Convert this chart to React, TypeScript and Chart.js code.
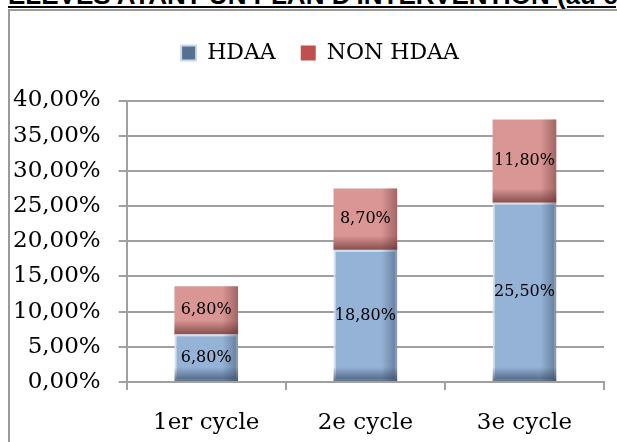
import React, { useEffect, useRef } from "react";
import { Chart, registerables, layouts } from "chart.js";

Chart.register(...registerables);

const categories = ["1er cycle", "2e cycle", "3e cycle"];
const hdaaValues = [6.8, 18.8, 25.5];
const nonHdaaValues = [6.8, 8.7, 11.8];
const seriesNames = ["HDAA", "NON HDAA"];
const yMin = 0;
const yMax = 40;
const yStep = 5;
const titleText = "ÉLÈVES AYANT UN PLAN D'INTERVENTION (au cycle)";

const SERIF = "'DejaVu Serif', serif";
const fmt = (v: number) => v.toFixed(2).replace(".", ",") + "%";

const spacerPlugin = {
  id: "legendSpacer",
  beforeInit(chart: any) {
    layouts.addBox(chart, {
      position: "top",
      weight: 0,
      fullSize: true,
      options: {},
      left: 0,
      top: 0,
      right: 0,
      bottom: 0,
      width: 0,
      height: 0,
      isHorizontal() {
        return true;
      },
      update(maxWidth: number) {
        this.width = maxWidth;
        this.height = 26.5;
      },
      draw() {},
    } as any);
  },
  afterLayout(chart: any) {
    if (chart.legend) {
      chart.legend.left += 20.5;
      chart.legend.right += 20.5;
    }
  },
};

const shadeAndLabelPlugin = {
  id: "shadeAndLabel",
  afterDatasetsDraw(chart: any) {
    const ctx = chart.ctx;
    chart.data.datasets.forEach((ds: any, di: number) => {
      const meta = chart.getDatasetMeta(di);
      const dark = di === 0 ? "40,58,84" : "92,42,40";
      meta.data.forEach((bar: any) => {
        const { x, y, base, width } = bar.getProps(["x", "y", "base", "width"], true);
        const left = x - width / 2;
        const right = x + width / 2;
        const top = Math.min(y, base);
        const bottom = Math.max(y, base);
        ctx.save();
        const gr = ctx.createLinearGradient(right - 16, 0, right, 0);
        gr.addColorStop(0, `rgba(${dark},0)`);
        gr.addColorStop(1, `rgba(${dark},0.45)`);
        ctx.fillStyle = gr;
        ctx.fillRect(right - 16, top, 16, bottom - top);
        const h = Math.min(14, bottom - top);
        const gb = ctx.createLinearGradient(0, bottom - h, 0, bottom);
        gb.addColorStop(0, `rgba(${dark},0)`);
        gb.addColorStop(1, `rgba(${dark},0.65)`);
        ctx.fillStyle = gb;
        ctx.fillRect(left, bottom - h, width, h);
        ctx.restore();
      });
    });
    chart.data.datasets.forEach((ds: any, di: number) => {
      const meta = chart.getDatasetMeta(di);
      meta.data.forEach((bar: any, i: number) => {
        const { x, y, base } = bar.getProps(["x", "y", "base"], true);
        ctx.save();
        ctx.font = `16px ${SERIF}`;
        ctx.fillStyle = "#000";
        ctx.textAlign = "center";
        ctx.textBaseline = "middle";
        ctx.fillText(fmt(ds.data[i]), x, (y + base) / 2);
        ctx.restore();
      });
    });
  },
};

export default function App() {
  const canvasRef = useRef<HTMLCanvasElement | null>(null);

  useEffect(() => {
    const canvas = canvasRef.current;
    if (!canvas) return;
    const gridColor = "#a0a0a0";
    const chart = new Chart(canvas, {
      type: "bar",
      data: {
        labels: categories,
        datasets: [
          {
            label: seriesNames[0],
            data: hdaaValues,
            backgroundColor: "#95B3D7",
            borderColor: "#d3e0f1",
            borderWidth: 2,
            borderSkipped: false,
          },
          {
            label: seriesNames[1],
            data: nonHdaaValues,
            backgroundColor: "#D99694",
            borderWidth: 0,
          },
        ],
      },
      options: {
        animation: false,
        responsive: false,
        devicePixelRatio: 1,
        layout: { padding: { left: -5, right: 13, top: 17, bottom: -13.6 } },
        datasets: {
          bar: { categoryPercentage: 1, barPercentage: 0.4 },
        },
        plugins: {
          tooltip: { enabled: false },
          legend: {
            display: true,
            position: "top",
            labels: {
              boxWidth: 15,
              boxHeight: 15,
              padding: 25,
              color: "#000",
              font: { family: SERIF, size: 22 },
              generateLabels: (chart: any) =>
                chart.data.datasets.map((ds: any, i: number) => ({
                  text: ds.label,
                  fillStyle: i === 0 ? "#58708f" : "#C0504D",
                  strokeStyle: i === 0 ? "#c9d8ec" : "#C0504D",
                  lineWidth: i === 0 ? 2 : 0,
                  hidden: false,
                  datasetIndex: i,
                })),
            },
          },
        },
        scales: {
          x: {
            stacked: true,
            grid: {
              offset: true,
              drawOnChartArea: false,
              drawTicks: true,
              tickLength: 8,
              color: gridColor,
              lineWidth: 2,
            },
            border: { display: true, color: gridColor, width: 2 },
            ticks: {
              color: "#000",
              padding: 19,
              font: { family: SERIF, size: 23 },
            },
          },
          y: {
            stacked: true,
            min: yMin,
            max: yMax,
            grid: {
              drawTicks: true,
              tickLength: 8,
              color: gridColor,
              lineWidth: 2,
            },
            border: { display: true, color: gridColor, width: 2 },
            ticks: {
              stepSize: yStep,
              color: "#000",
              padding: 18,
              font: { family: SERIF, size: 23 },
              callback: (v: any) => fmt(Number(v)),
            },
          },
        },
      },
      plugins: [spacerPlugin, shadeAndLabelPlugin],
    });
    return () => chart.destroy();
  }, []);

  return (
    <div
      style={{
        position: "fixed",
        left: 0,
        top: 0,
        width: 617,
        height: 442,
        overflow: "hidden",
        background: "#fff",
      }}
    >
      <div
        style={{
          position: "absolute",
          left: 8,
          top: -20,
          font: "bold 26px 'Liberation Sans', Arial, sans-serif",
          lineHeight: "30px",
          whiteSpace: "nowrap",
          textDecoration: "underline",
          color: "#000",
        }}
      >
        {titleText}
      </div>
      <div
        style={{
          position: "absolute",
          left: 8,
          top: 9,
          width: 800,
          height: 600,
          borderLeft: "2px solid #9a9a9a",
          borderTop: "2px solid #9a9a9a",
        }}
      />
      <canvas
        ref={canvasRef}
        width={617}
        height={442}
        style={{ position: "absolute", left: 0, top: 0, width: 617, height: 442 }}
      />
    </div>
  );
}
